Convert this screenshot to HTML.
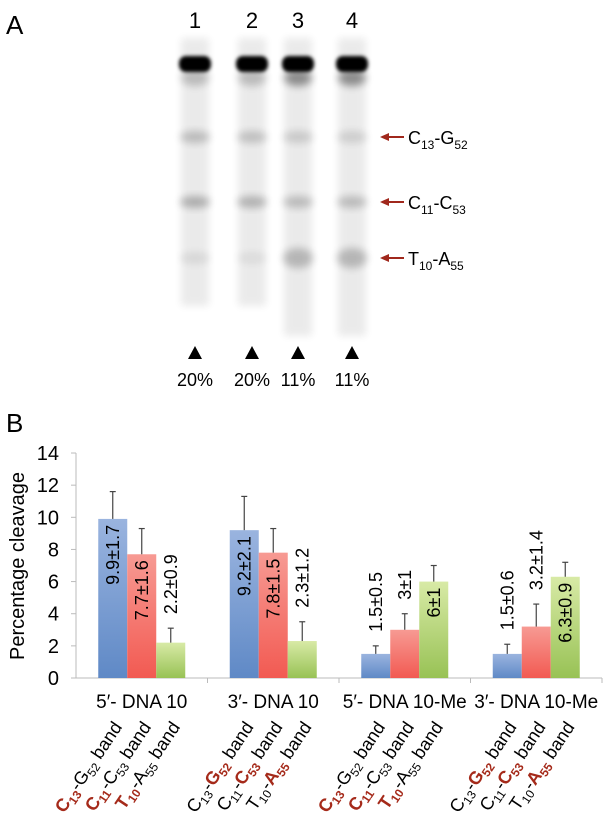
<!DOCTYPE html>
<html><head><meta charset="utf-8"><style>
body{margin:0;background:#fff;width:609px;height:824px;overflow:hidden}
svg{display:block;font-family:"Liberation Sans",sans-serif}
</style></head><body>
<svg width="609" height="824" viewBox="0 0 609 824">
<defs>
<filter id="blur4" x="-50%" y="-50%" width="200%" height="200%"><feGaussianBlur stdDeviation="4"/></filter>
<filter id="blur2" x="-50%" y="-50%" width="200%" height="200%"><feGaussianBlur stdDeviation="1.8"/></filter>
<linearGradient id="gB" x1="0" y1="0" x2="0" y2="1"><stop offset="0" stop-color="#9ab4df"/><stop offset="1" stop-color="#5f89c6"/></linearGradient>
<linearGradient id="gR" x1="0" y1="0" x2="0" y2="1"><stop offset="0" stop-color="#f79a93"/><stop offset="1" stop-color="#f25a52"/></linearGradient>
<linearGradient id="gG" x1="0" y1="0" x2="0" y2="1"><stop offset="0" stop-color="#d8eaa6"/><stop offset="1" stop-color="#98c255"/></linearGradient>
</defs>
<text x="6" y="34" font-size="26">A</text>
<g id="gel"></g>
<text x="6" y="432" font-size="26">B</text>
<g id="chart"></g>
</svg>
<script>
const NS="http://www.w3.org/2000/svg";
function mk(tag,attrs,parent,txt){const e=document.createElementNS(NS,tag);for(const k in attrs)e.setAttribute(k,attrs[k]);if(txt!==undefined)e.textContent=txt;parent.appendChild(e);return e;}
// ---- Gel ----
const gel=document.getElementById('gel');
const laneLabels=["1","2","3","4"];
const laneX=[195,252,298,352];
const lanePct=["20%","20%","11%","11%"];
const bandNames=[["C","13","G","52"],["C","11","C","53"],["T","10","A","55"]];
const bandY=[137,202,258];
const bandInt=[[0.2,0.18,0.14,0.12],[0.26,0.24,0.2,0.2],[0.08,0.06,0.22,0.22]];
laneX.forEach((x,i)=>{
  let t=mk('text',{x:x,y:28,'font-size':22,'text-anchor':'middle'},gel,laneLabels[i]);
  
  
  let sm=mk('rect',{x:x-14,y:38,width:28,height:(i<2?268:298),fill:'#000',opacity:0.08,filter:'url(#blur4)'},gel);
  
  
  bandY.forEach((y,j)=>{
    let b=mk('ellipse',{cx:x,cy:y,rx:15,ry:(j==2&&i>1?10:6),fill:'#000',opacity:bandInt[j][i],filter:'url(#blur4)'},gel);
    
    
  });
  let tail=mk('ellipse',{cx:x,cy:78,rx:14,ry:8,fill:'#000',opacity:(i>1?0.4:0.2),filter:'url(#blur4)'},gel);
  
  
  let tb=mk('rect',{x:x-16,y:56,width:32,height:16,rx:7,fill:'#000',filter:'url(#blur2)'},gel);
  
  
  let tri=mk('polygon',{points:`${x-7},359 ${x+7},359 ${x},346`,fill:'#000'},gel);
  
  
  let p=mk('text',{x:x,y:386,'font-size':18,'text-anchor':'middle'},gel,lanePct[i]);
  
  
});
bandY.forEach((y,j)=>{
  let a=mk('g',{},gel);
  
  
  mk('line',{x1:386,y1:y,x2:404,y2:y,stroke:'#a0281c','stroke-width':2},a);
  mk('polygon',{points:`380,${y} 389,${y-4} 389,${y+4}`,fill:'#a0281c'},a);
  const n=bandNames[j];
  let t=mk('text',{x:408,y:y+7,'font-size':18},gel);
  
  
  t.innerHTML=`${n[0]}<tspan font-size="12" dy="5">${n[1]}</tspan><tspan dy="-5">-${n[2]}</tspan><tspan font-size="12" dy="5">${n[3]}</tspan>`;
});
// ---- Chart ----
const chart=document.getElementById('chart');
const categories=["5\u2032- DNA 10","3\u2032- DNA 10","5\u2032- DNA 10-Me","3\u2032- DNA 10-Me"];
const c13Values=[9.9,9.2,1.5,1.5];
const c13Errors=[1.7,2.1,0.5,0.6];
const c11Values=[7.7,7.8,3,3.2];
const c11Errors=[1.6,1.5,1,1.4];
const t10Values=[2.2,2.3,6,6.3];
const t10Errors=[0.9,1.2,1,0.9];
const yTicks=[0,2,4,6,8,10,12,14];
const X0=76,CW=131.5,Y0=678,YS=16.07,BW=29;
const yS=v=>Y0-v*YS;
const catX=i=>X0+CW*i+CW/2;
mk('line',{x1:X0,y1:yS(14),x2:X0,y2:Y0,stroke:'#bbb'},chart);
mk('line',{x1:X0,y1:Y0,x2:X0+CW*4,y2:Y0,stroke:'#bbb'},chart);
yTicks.forEach(v=>{
  mk('line',{x1:X0-5,y1:yS(v),x2:X0,y2:yS(v),stroke:'#bbb'},chart);
  let t=mk('text',{x:X0-17,y:yS(v)+7,'font-size':20,'text-anchor':'end'},chart,String(v));
  
  
});
for(let i=1;i<=4;i++)mk('line',{x1:X0+CW*i,y1:Y0,x2:X0+CW*i,y2:Y0+5,stroke:'#bbb'},chart);
let yt=mk('text',{x:0,y:0,'font-size':20,'text-anchor':'middle',transform:'translate(24,566) rotate(-90)'},chart,'Percentage cleavage');


const series=[[c13Values,c13Errors,'url(#gB)'],[c11Values,c11Errors,'url(#gR)'],[t10Values,t10Errors,'url(#gG)']];
const fmt=v=>String(v);
categories.forEach((c,i)=>{
  series.forEach((s,k)=>{
    const v=s[0][i],e=s[1][i];
    const cx=catX(i)+(k-1)*BW;
    let r=mk('rect',{x:cx-BW/2,y:yS(v),width:BW,height:Y0-yS(v),fill:s[2]},chart);
    
    
    mk('line',{x1:cx,y1:yS(v),x2:cx,y2:yS(v+e),stroke:'#444','stroke-width':1.2},chart);
    mk('line',{x1:cx-3,y1:yS(v+e),x2:cx+3,y2:yS(v+e),stroke:'#444','stroke-width':1.2},chart);
    const label=fmt(v)+'\u00b1'+fmt(e);
    let t;
    if(v>5){t=mk('text',{x:0,y:0,'font-size':18,'text-anchor':'end',transform:`translate(${cx+6},${yS(v)+6}) rotate(-90)`},chart,label);}
    else{t=mk('text',{x:0,y:0,'font-size':18,'text-anchor':'start',transform:`translate(${cx+6},${yS(v+e)-14}) rotate(-90)`},chart,label);}
    
    
  });
  let ct=mk('text',{x:catX(i),y:708,'font-size':19,'text-anchor':'middle'},chart,c);
  
  
  const bands=[["C","13","G","52"],["C","11","C","53"],["T","10","A","55"]];
  bands.forEach((b,k)=>{
    const cx=catX(i)+(k-1)*BW;
    const redFirst=(i%2===0);
    const st1=redFirst?'fill="#a52a1a" font-weight="bold"':'';
    const st2=redFirst?'':'fill="#a52a1a" font-weight="bold"';
    let t=mk('text',{x:0,y:0,'font-size':18,'text-anchor':'end',transform:`translate(${cx+10},${727}) rotate(-56)`},chart);
    
    
    t.innerHTML=`<tspan ${st1}>${b[0]}</tspan><tspan ${st1} font-size="12" dy="4">${b[1]}</tspan><tspan dy="-4">-</tspan><tspan ${st2}>${b[2]}</tspan><tspan ${st2} font-size="12" dy="4">${b[3]}</tspan><tspan dy="-4"> band</tspan>`;
  });
});
</script>
</body></html>
